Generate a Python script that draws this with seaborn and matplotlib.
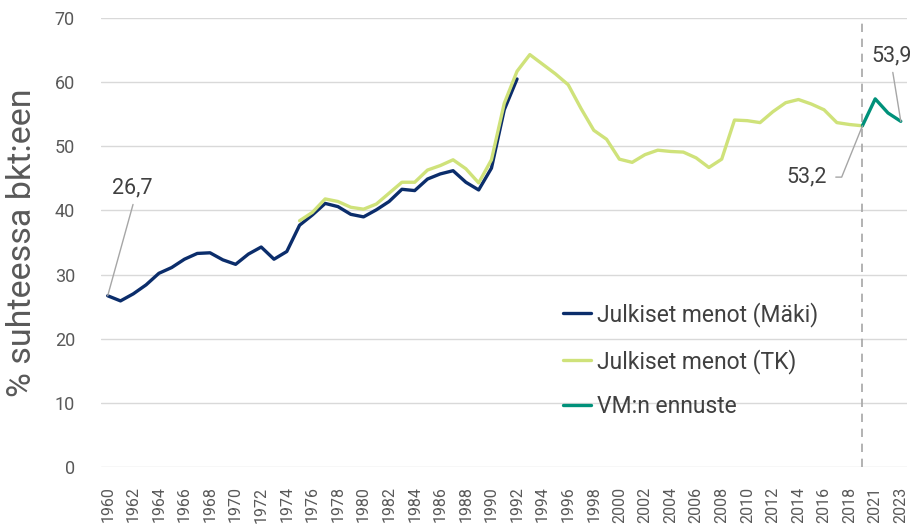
import numpy as np
import pandas as pd
import matplotlib
matplotlib.use("Agg")
import matplotlib.pyplot as plt
import seaborn as sns

# Years on the category axis (one year is missing before the forecast in the source)
years = list(range(1960, 2020)) + [2021, 2022, 2023]

# Julkiset menot (Mäki), 1960-1992
maki_years = list(range(1960, 1993))
maki_values = [26.7, 25.9, 27.0, 28.4, 30.2, 31.1, 32.4, 33.3, 33.4, 32.3,
               31.6, 33.2, 34.3, 32.4, 33.6, 37.7, 39.3, 41.1, 40.6, 39.4,
               39.0, 40.1, 41.4, 43.3, 43.1, 44.9, 45.7, 46.2, 44.4, 43.2,
               46.6, 55.7, 60.5]

# Julkiset menot (TK), 1975-2019
tk_years = list(range(1975, 2020))
tk_values = [38.4, 39.7, 41.8, 41.4, 40.5, 40.2, 41.0, 42.7, 44.4, 44.4,
             46.3, 47.0, 47.9, 46.5, 44.3, 47.9, 56.7, 61.7, 64.3, 62.8,
             61.3, 59.6, 55.9, 52.5, 51.1, 48.0, 47.5, 48.7, 49.4, 49.2,
             49.1, 48.2, 46.7, 48.0, 54.1, 54.0, 53.7, 55.4, 56.8, 57.3,
             56.6, 55.7, 53.7, 53.4, 53.2]

# VM:n ennuste
vm_years = [2019, 2021, 2022, 2023]
vm_values = [53.2, 57.4, 55.2, 53.9]

series_names = ["Julkiset menot (Mäki)", "Julkiset menot (TK)", "VM:n ennuste"]
colors = {"Julkiset menot (Mäki)": "#0b2d6b",
          "Julkiset menot (TK)": "#cfe27a",
          "VM:n ennuste": "#00917a"}

rows = []
for name, ys, vs in zip(series_names, [maki_years, tk_years, vm_years],
                        [maki_values, tk_values, vm_values]):
    for y, v in zip(ys, vs):
        rows.append({"pos": years.index(y), "value": v, "series": name})
df = pd.DataFrame(rows)

sns.set_theme(style="white")
plt.rcParams["font.family"] = ["Roboto", "DejaVu Sans"]

fig = plt.figure(figsize=(9.21, 5.31), dpi=100)
ax = fig.add_axes([0.110, 0.1205, 0.875, 0.8455])

ax.yaxis.grid(True, color="#d9d9d9", linewidth=1)
ax.set_axisbelow(True)

sns.lineplot(data=df, x="pos", y="value", hue="series", hue_order=series_names,
             palette=colors, linewidth=2.4, ax=ax, zorder=3)

last_pos = years.index(2019)
ax.axvline(last_pos, color="#a6a6a6", linestyle=(0, (5, 4)), linewidth=1.2, zorder=2)

ax.set_xlim(-0.5, len(years) - 0.5)
ax.set_ylim(0, 70)
ax.set_yticks(range(0, 71, 10))
ax.set_xticks(range(0, len(years), 2))
ax.set_xticklabels([str(y) for y in years[::2]], rotation=90)
ax.tick_params(axis="x", length=0, pad=14, labelsize=11.5, labelcolor="#595959")
ax.tick_params(axis="y", length=0, pad=19, labelsize=13, labelcolor="#595959")
ax.set_xlabel("")
ax.set_ylabel("% suhteessa bkt:een", fontsize=24.5, color="#595959", labelpad=12)
sns.despine(ax=ax, left=True, bottom=True)

# Annotations
ann = dict(fontsize=15.5, color="#404040", ha="center", va="center")
ax.annotate("26,7", xy=(0, 26.7), xytext=(1.95, 43.5), zorder=4,
            arrowprops=dict(arrowstyle="-", color="#a6a6a6", lw=1,
                            relpos=(0.55, 0), shrinkA=2, shrinkB=0), **ann)
ax.annotate("53,2", xy=(last_pos, 53.2), xytext=(54.65, 45.2), zorder=4,
            arrowprops=dict(arrowstyle="-", color="#a6a6a6", lw=1,
                            relpos=(1, 0.5), shrinkA=4, shrinkB=0,
                            connectionstyle="angle,angleA=0,angleB=68,rad=0"),
            **ann)
ax.annotate("53,9", xy=(len(years) - 1, 53.9), xytext=(61.3, 64.1), zorder=4,
            arrowprops=dict(arrowstyle="-", color="#a6a6a6", lw=1,
                            relpos=(0.5, 0), shrinkA=2, shrinkB=0), **ann)

handles, labels = ax.get_legend_handles_labels()
ax.legend(handles, labels, frameon=False, fontsize=16.5, labelcolor="#404040",
          loc="upper left", bbox_to_anchor=(563 / 921, 1 - 302 / 531),
          bbox_transform=fig.transFigure, borderaxespad=0, borderpad=0,
          handlelength=1.2, handletextpad=0.3, labelspacing=0.95)

fig.savefig("out.png", dpi=100)
